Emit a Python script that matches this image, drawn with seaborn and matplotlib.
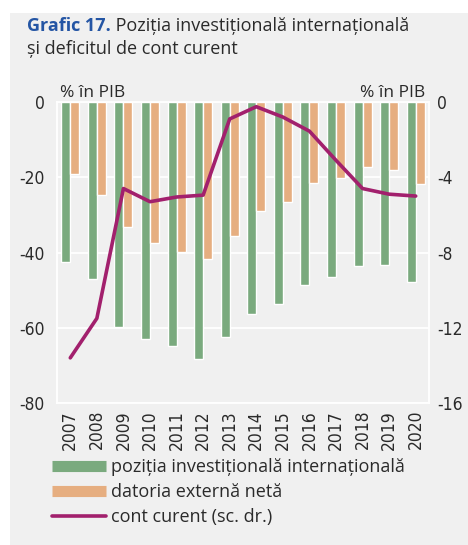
import matplotlib
matplotlib.use("Agg")
import matplotlib.pyplot as plt
import numpy as np
import pandas as pd
import seaborn as sns
from matplotlib import font_manager
from matplotlib.lines import Line2D
from matplotlib.patches import Rectangle

# data (% of GDP)
years = [str(y) for y in range(2007, 2021)]
piin = [-42.5, -47.0, -59.7, -63.0, -64.9, -68.2, -62.4,
        -56.3, -53.7, -48.6, -46.4, -43.6, -43.2, -47.9]
datorie = [-19.2, -24.7, -33.1, -37.6, -39.8, -41.6, -35.6,
           -29.1, -26.7, -21.4, -20.1, -17.3, -18.0, -21.9]
cont_curent = [-13.6, -11.5, -4.6, -5.3, -5.05, -4.95, -0.9,
               -0.25, -0.8, -1.55, -3.1, -4.6, -4.9, -5.0]

lbl_piin = "poziția investițională internațională"
lbl_dat = "datoria externă netă"
lbl_cc = "cont curent (sc. dr.)"

GREEN = "#7aaa7e"
ORANGE = "#e6ae80"
PURPLE = "#a2206d"
PANEL = "#f0f0f0"
TXT = "#2a2a2a"

sns.set_theme(style="white")
plt.rcParams["font.family"] = ["Open Sans", "DejaVu Sans"]
plt.rcParams["axes.unicode_minus"] = False

# narrow font for the tick labels, if one is installed
tick_fp = None
for f in font_manager.fontManager.ttflist:
    fn = f.fname.replace("\\", "/").split("/")[-1]
    if fn in ("LiberationSansNarrow-Regular.ttf", "DejaVuSansCondensed.ttf"):
        tick_fp = font_manager.FontProperties(fname=f.fname, size=12.5)
        break
if tick_fp is None:
    tick_fp = font_manager.FontProperties(family="Liberation Sans", size=11.5)

df = pd.DataFrame({"an": years * 2,
                   "val": piin + datorie,
                   "serie": [lbl_piin] * len(years) + [lbl_dat] * len(years)})

fig = plt.figure(figsize=(4.68, 5.45), dpi=100, facecolor="white")
fig.patches.append(Rectangle((10 / 468, 0), 1, 1 - 13 / 545, transform=fig.transFigure,
                             facecolor=PANEL, edgecolor="none", zorder=-10))
ax = fig.add_axes([57 / 468, 1 - 403 / 545, 372 / 468, 301 / 545])
ax.set_facecolor(PANEL)

sns.barplot(data=df, x="an", y="val", hue="serie", palette=[GREEN, ORANGE],
            width=0.68, gap=0, saturation=1, ax=ax, legend=False, zorder=2)
ax.set_ylim(-80, 0)
ax.set_yticks([0, -20, -40, -60, -80])
ax.set_xlim(-0.5, len(years) - 0.5)
ax.set_xlabel("")
ax.set_ylabel("")
ax.grid(axis="y", color="white", lw=1.3, zorder=1)
ax.set_axisbelow(True)
for s in ax.spines.values():
    s.set_color("white")
    s.set_linewidth(1.3)
ax.tick_params(axis="x", rotation=90, length=0, pad=5, colors=TXT)
ax.tick_params(axis="y", length=0, pad=9, colors=TXT)
for lab in ax.get_xticklabels() + ax.get_yticklabels():
    lab.set_fontproperties(tick_fp)

ax2 = ax.twinx()
sns.lineplot(x=np.arange(len(years)), y=cont_curent, color=PURPLE, lw=2.6, ax=ax2, zorder=3)
ax2.set_ylim(-16, 0)
ax2.set_yticks([0, -4, -8, -12, -16])
ax2.tick_params(axis="y", length=0, pad=6, colors=TXT)
for lab in ax2.get_yticklabels():
    lab.set_fontproperties(tick_fp)
for s in ax2.spines.values():
    s.set_visible(False)

fig.text(60 / 468, 1 - 97 / 545, "% în PIB", fontsize=12.5,
         color=TXT, va="baseline")
fig.text(425 / 468, 1 - 97 / 545, "% în PIB", fontsize=12.5,
         color=TXT, va="baseline", ha="right")

t1 = fig.text(27 / 468, 1 - 31 / 545, "Grafic 17.", fontsize=13,
              weight="bold", color="#2455a4", va="baseline")
ax.annotate(" Poziția investițională internațională", xy=(1, 0), xycoords=t1,
            fontsize=13, color=TXT, va="bottom", annotation_clip=False)
fig.text(27 / 468, 1 - 54 / 545, "și deficitul de cont curent", fontsize=13,
         color=TXT, va="baseline")

handles = [Line2D([], [], color=GREEN, lw=8, solid_capstyle="butt"),
           Line2D([], [], color=ORANGE, lw=8, solid_capstyle="butt"),
           Line2D([], [], color=PURPLE, lw=2.6)]
leg = fig.legend(handles, [lbl_piin, lbl_dat, lbl_cc], loc="upper left",
                 bbox_to_anchor=(45 / 468, 1 - 451 / 545), frameon=False,
                 prop={"size": 13}, handlelength=3.0,
                 handletextpad=0.25, labelspacing=0.38, borderaxespad=0)
for t in leg.get_texts():
    t.set_color(TXT)

fig.savefig("out.png", dpi=100)
